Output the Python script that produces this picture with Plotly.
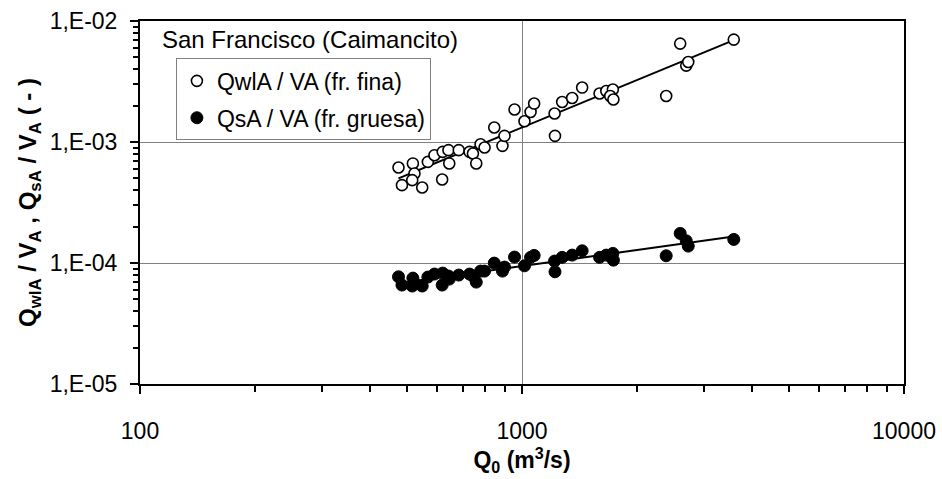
import numpy as np
import plotly.graph_objects as go

# Discharge Q0 (m3/s) for each sampled event
q0 = [475, 485, 518, 523, 516, 548, 567, 590, 620, 618,
      642, 645, 683, 729, 744, 759, 779, 798, 846, 889,
      900, 956, 1015, 1053, 1076, 1217, 1220, 1274, 1353, 1437,
      1596, 1662, 1729, 1702, 1735, 2385, 2595, 2691, 2724, 3584]

# Fine fraction (wash load) ratio QwlA / VA
qwl_va = [6.16e-4, 4.40e-4, 6.65e-4, 5.49e-4, 4.84e-4, 4.21e-4, 6.85e-4, 7.78e-4, 8.29e-4, 4.90e-4,
          8.56e-4, 6.65e-4, 8.56e-4, 8.29e-4, 8.04e-4, 6.65e-4, 9.59e-4, 9.01e-4, 1.317e-3, 9.29e-4,
          1.123e-3, 1.855e-3, 1.485e-3, 1.772e-3, 2.078e-3, 1.719e-3, 1.123e-3, 2.143e-3, 2.312e-3, 2.818e-3,
          2.515e-3, 2.642e-3, 2.713e-3, 2.402e-3, 2.244e-3, 2.402e-3, 6.507e-3, 4.281e-3, 4.586e-3, 7.021e-3]

# Coarse fraction ratio QsA / VA
qs_va = [7.69e-5, 6.57e-5, 7.50e-5, 6.82e-5, 6.45e-5, 6.45e-5, 7.65e-5, 8.10e-5, 8.25e-5, 6.57e-5,
         7.80e-5, 7.36e-5, 7.95e-5, 8.10e-5, 7.80e-5, 6.95e-5, 8.57e-5, 8.57e-5, 9.98e-5, 8.57e-5,
         9.25e-5, 1.119e-4, 9.48e-5, 1.113e-4, 1.155e-4, 1.037e-4, 8.46e-5, 1.113e-4, 1.162e-4, 1.261e-4,
         1.113e-4, 1.162e-4, 1.200e-4, 1.140e-4, 1.056e-4, 1.147e-4, 1.756e-4, 1.525e-4, 1.379e-4, 1.566e-4]

x_ticks = [100, 1000, 10000]
x_tick_text = ["100", "1000", "10000"]
y_ticks = [1e-5, 1e-4, 1e-3, 1e-2]
y_tick_text = ["1,E-05", "1,E-04", "1,E-03", "1,E-02"]

FONT = "Liberation Sans, Arial, sans-serif"


def power_trend(x, y):
    """Least-squares power-law fit y = a*x^b evaluated across the data span."""
    lx, ly = np.log10(x), np.log10(y)
    b, a = np.polyfit(lx, ly, 1)
    xs = np.logspace(lx.min(), lx.max(), 60)
    return xs, 10 ** (a + b * np.log10(xs))


fig = go.Figure()

for vals in (qwl_va, qs_va):
    tx, ty = power_trend(np.array(q0), np.array(vals))
    fig.add_trace(go.Scatter(x=tx, y=ty, mode="lines",
                             line=dict(color="black", width=2),
                             showlegend=False, hoverinfo="skip"))

fig.add_trace(go.Scatter(
    x=q0, y=qwl_va, mode="markers", name="QwlA / VA (fr. fina)",
    legendgroup="a",
    marker=dict(symbol="circle", size=11, color="white",
                line=dict(color="black", width=1.6))))
fig.add_trace(go.Scatter(
    x=q0, y=qs_va, mode="markers", name="QsA / VA (fr. gruesa)",
    legendgroup="b",
    marker=dict(symbol="circle", size=12, color="black",
                line=dict(color="black", width=1))))

fig.add_annotation(
    text="San Francisco (Caimancito)", xref="paper", yref="paper",
    x=0.026, y=0.95, xanchor="left", yanchor="middle", showarrow=False,
    font=dict(family=FONT, size=24, color="black"))

minor_vals = [m * 10 ** e for e in (2, 3) for m in range(2, 10)]
minor_y = [m * 10.0 ** e for e in (-5, -4, -3) for m in range(2, 10)]

fig.update_xaxes(
    type="log", range=[2, 4], automargin=False,
    tickmode="array", tickvals=x_ticks, ticktext=x_tick_text,
    ticks="outside", ticklen=8, tickwidth=2, tickcolor="black",
    ticklabelstandoff=17,
    minor=dict(tickmode="array", tickvals=minor_vals, ticks="outside",
               ticklen=6, tickwidth=2, tickcolor="black", showgrid=False),
    showline=True, linecolor="black", linewidth=2, mirror=True,
    showgrid=True, gridcolor="#808080", gridwidth=1,
    zeroline=False,
    tickfont=dict(family=FONT, size=23, color="black"),
    title=dict(text="<b>Q<sub>0</sub> (m<sup>3</sup>/s)</b>", standoff=8,
               font=dict(family=FONT, size=23, color="black")),
)
fig.update_yaxes(
    type="log", range=[-5, -2], automargin=False,
    tickmode="array", tickvals=y_ticks, ticktext=y_tick_text,
    ticks="outside", ticklen=8, tickwidth=2, tickcolor="black",
    ticklabelstandoff=8,
    minor=dict(tickmode="array", tickvals=minor_y, ticks="outside",
               ticklen=5, tickwidth=2, tickcolor="black", showgrid=False),
    showline=True, linecolor="black", linewidth=2, mirror=True,
    showgrid=True, gridcolor="#808080", gridwidth=1,
    zeroline=False,
    tickfont=dict(family=FONT, size=23, color="black"),
    title=dict(text="<b>Q<sub>wlA</sub> / V<sub>A</sub> , Q<sub>sA</sub> / V<sub>A</sub> ( - )</b>",
               standoff=6, font=dict(family=FONT, size=24, color="black")),
)

fig.update_layout(
    width=942, height=479,
    margin=dict(l=140, r=38, t=21, b=95),
    paper_bgcolor="white", plot_bgcolor="white",
    showlegend=True,
    legend=dict(x=0.047, y=0.897, xanchor="left", yanchor="top",
                bgcolor="white", bordercolor="#808080", borderwidth=1,
                tracegroupgap=4, itemsizing="trace",
                font=dict(family=FONT, size=23, color="black")),
    font=dict(family=FONT, color="black"),
)

fig.write_html("out.html")
